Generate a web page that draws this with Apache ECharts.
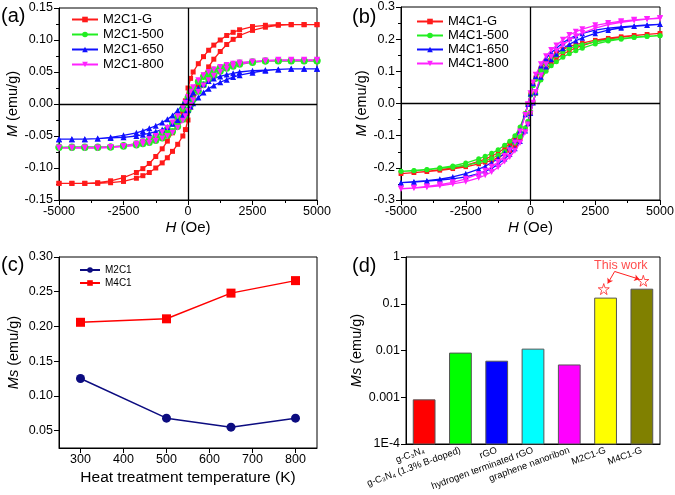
<!DOCTYPE html>
<html><head><meta charset="utf-8">
<script src="https://cdn.jsdelivr.net/npm/echarts@6/dist/echarts.min.js"></script>
<style>html,body{margin:0;padding:0;background:#fff}#c{width:675px;height:495px}</style>
</head><body><div id="c"></div>
<script>
// ---------- Panel (a)/(b): field grid (Oe), ascending ----------
const H_FIELD = [-5000,-4500,-4000,-3500,-3000,-2500,-2000,-1750,-1500,-1250,-1000,-800,-600,-400,-200,-100,0,100,200,400,600,800,1000,1250,1500,1750,2000,2500,3000,3500,4000,4500,5000];

// Panel (a): descending-field branch (upper) and ascending-field branch (lower), on H_FIELD
const M2C1_G_UP   = [-0.124,-0.124,-0.124,-0.123,-0.120,-0.115,-0.107,-0.101,-0.093,-0.082,-0.070,-0.058,-0.045,-0.030,-0.012,0.005,0.025,0.040,0.050,0.063,0.074,0.084,0.092,0.100,0.107,0.112,0.116,0.121,0.123,0.124,0.124,0.124,0.124];
const M2C1_G_LO   = [-0.124,-0.124,-0.124,-0.124,-0.123,-0.121,-0.116,-0.112,-0.107,-0.100,-0.092,-0.084,-0.074,-0.063,-0.050,-0.040,-0.025,-0.005,0.012,0.030,0.045,0.058,0.070,0.082,0.093,0.101,0.107,0.115,0.120,0.123,0.124,0.124,0.124];
const M2C1_500_UP = [-0.068,-0.068,-0.068,-0.068,-0.067,-0.065,-0.062,-0.059,-0.056,-0.051,-0.045,-0.039,-0.030,-0.020,-0.007,0.001,0.010,0.018,0.024,0.035,0.043,0.049,0.053,0.057,0.060,0.062,0.064,0.066,0.067,0.067,0.067,0.067,0.067];
const M2C1_500_LO = [-0.067,-0.067,-0.067,-0.067,-0.067,-0.066,-0.064,-0.062,-0.060,-0.057,-0.053,-0.049,-0.043,-0.035,-0.024,-0.018,-0.010,-0.001,0.007,0.020,0.030,0.039,0.045,0.051,0.056,0.059,0.062,0.065,0.067,0.068,0.068,0.068,0.068];
const M2C1_650_UP = [-0.055,-0.055,-0.055,-0.054,-0.052,-0.049,-0.045,-0.042,-0.038,-0.034,-0.029,-0.024,-0.018,-0.010,-0.001,0.004,0.009,0.014,0.018,0.025,0.031,0.036,0.040,0.043,0.046,0.048,0.050,0.052,0.053,0.054,0.055,0.055,0.055];
const M2C1_650_LO = [-0.055,-0.055,-0.055,-0.054,-0.053,-0.052,-0.050,-0.048,-0.046,-0.043,-0.040,-0.036,-0.031,-0.025,-0.018,-0.014,-0.009,-0.004,0.001,0.010,0.018,0.024,0.029,0.034,0.038,0.042,0.045,0.049,0.052,0.054,0.055,0.055,0.055];
const M2C1_800_UP = [-0.069,-0.069,-0.069,-0.069,-0.068,-0.066,-0.062,-0.059,-0.055,-0.050,-0.044,-0.037,-0.029,-0.019,-0.006,0.002,0.011,0.019,0.026,0.037,0.045,0.050,0.054,0.058,0.061,0.063,0.065,0.066,0.067,0.068,0.068,0.068,0.068];
const M2C1_800_LO = [-0.068,-0.068,-0.068,-0.068,-0.067,-0.066,-0.065,-0.063,-0.061,-0.058,-0.054,-0.050,-0.045,-0.037,-0.026,-0.019,-0.011,-0.002,0.006,0.019,0.029,0.037,0.044,0.050,0.055,0.059,0.062,0.066,0.068,0.069,0.069,0.069,0.069];

// Panel (b)
const M4C1_G_UP   = [-0.218,-0.215,-0.211,-0.206,-0.200,-0.192,-0.180,-0.173,-0.164,-0.153,-0.139,-0.125,-0.106,-0.077,-0.032,-0.002,0.028,0.058,0.080,0.110,0.131,0.146,0.157,0.168,0.177,0.183,0.188,0.197,0.203,0.208,0.212,0.215,0.218];
const M4C1_G_LO   = [-0.218,-0.215,-0.212,-0.208,-0.203,-0.197,-0.188,-0.183,-0.177,-0.168,-0.157,-0.146,-0.131,-0.110,-0.080,-0.058,-0.028,0.002,0.032,0.077,0.106,0.125,0.139,0.153,0.164,0.173,0.180,0.192,0.200,0.206,0.211,0.215,0.218];
const M4C1_500_UP = [-0.211,-0.208,-0.205,-0.200,-0.194,-0.185,-0.172,-0.164,-0.155,-0.144,-0.130,-0.117,-0.100,-0.073,-0.031,-0.003,0.026,0.055,0.075,0.103,0.123,0.138,0.149,0.161,0.171,0.178,0.183,0.192,0.198,0.202,0.206,0.209,0.211];
const M4C1_500_LO = [-0.211,-0.209,-0.206,-0.202,-0.198,-0.192,-0.183,-0.178,-0.171,-0.161,-0.149,-0.138,-0.123,-0.103,-0.075,-0.055,-0.026,0.003,0.031,0.073,0.100,0.117,0.130,0.144,0.155,0.164,0.172,0.185,0.194,0.200,0.205,0.208,0.211];
const M4C1_650_UP = [-0.246,-0.243,-0.240,-0.235,-0.228,-0.218,-0.204,-0.195,-0.184,-0.171,-0.154,-0.137,-0.114,-0.082,-0.034,-0.002,0.030,0.062,0.085,0.117,0.140,0.158,0.172,0.189,0.202,0.211,0.218,0.228,0.234,0.238,0.241,0.244,0.246];
const M4C1_650_LO = [-0.246,-0.244,-0.241,-0.238,-0.234,-0.228,-0.218,-0.211,-0.202,-0.189,-0.172,-0.158,-0.140,-0.117,-0.085,-0.062,-0.030,0.002,0.034,0.082,0.114,0.137,0.154,0.171,0.184,0.195,0.204,0.218,0.228,0.235,0.240,0.243,0.246];
const M4C1_800_UP = [-0.265,-0.262,-0.258,-0.252,-0.245,-0.234,-0.219,-0.209,-0.197,-0.182,-0.163,-0.145,-0.121,-0.087,-0.036,-0.002,0.032,0.065,0.089,0.122,0.147,0.166,0.180,0.198,0.213,0.223,0.231,0.243,0.250,0.256,0.260,0.263,0.265];
const M4C1_800_LO = [-0.265,-0.263,-0.260,-0.256,-0.250,-0.243,-0.231,-0.223,-0.213,-0.198,-0.180,-0.166,-0.147,-0.122,-0.089,-0.065,-0.032,0.002,0.036,0.087,0.121,0.145,0.163,0.182,0.197,0.209,0.219,0.234,0.245,0.252,0.258,0.262,0.265];

// Panel (c)
const TEMPS = [300, 500, 650, 800];
const MS_M2C1 = [0.125, 0.068, 0.055, 0.068];
const MS_M4C1 = [0.206, 0.211, 0.248, 0.266];
const C_X_TICKS = [300, 400, 500, 600, 700, 800];
const C_Y_TICKS = [0.05, 0.10, 0.15, 0.20, 0.25, 0.30];

// Panel (d)
const SAMPLES = ['g-C\u2083N\u2084', 'g-C\u2083N\u2084 (1.3% B-doped)', 'rGO', 'hydrogen terminated rGO', 'graphene nanoribon', 'M2C1-G', 'M4C1-G'];
const MS_SAMPLES = [0.00088, 0.0088, 0.0059, 0.0107, 0.0049, 0.132, 0.205];
const BAR_COLORS = ['#ff0000', '#00ff00', '#0000ff', '#00ffff', '#ff00ff', '#ffff00', '#808000'];
const LOG_TICK_LABELS = {'0': '1', '-1': '0.1', '-2': '0.01', '-3': '0.001', '-4': '1E-4'};
const STAR_POS = [[4.95, 0.206], [6.04, 0.31]];
const NOTE_POS = [5.42, 0.66];
const ARROWS = [[[5.25, 0.49], [5.06, 0.272]], [[5.25, 0.49], [5.93, 0.335]]];

function loop(up, lo) {
  const a = [];
  for (let i = H_FIELD.length - 1; i >= 0; i--) a.push([H_FIELD[i], up[i]]);
  for (let i = 0; i < H_FIELD.length; i++) a.push([H_FIELD[i], lo[i]]);
  return a;
}

const FONT = 'Arial, "Liberation Sans", sans-serif';
const BLACK = '#000';
const tickLbl = {color: BLACK, fontSize: 12.5, fontFamily: FONT};
const nameStyle = (sz) => ({color: BLACK, fontSize: sz, fontFamily: FONT,
  rich: {i: {fontStyle: 'italic', fontSize: sz, fontFamily: FONT, color: BLACK}, n: {fontSize: sz, fontFamily: FONT, color: BLACK}}});
const axLine = {show: true, onZero: false, lineStyle: {color: BLACK, width: 1}};
const axTick = {show: true, length: 5, lineStyle: {color: BLACK, width: 1}};
const minTick = {show: true, splitNumber: 2, length: 3, lineStyle: {color: BLACK, width: 1}};
const plain = v => String(Math.round(v));

const grids = [
  {left: 59, top: 8, width: 258, height: 192},
  {left: 401, top: 7, width: 259, height: 193},
  {left: 59, top: 257, width: 258, height: 191},
  {left: 406, top: 257, width: 254, height: 187}
].map(g => Object.assign(g, {show: true, borderColor: BLACK, borderWidth: 1, backgroundColor: 'transparent', containLabel: false, outerBoundsMode: 'none'}));

const xAxes = [
  {type: 'value', gridIndex: 0, min: -5000, max: 5000, interval: 2500, axisLine: axLine, axisTick: axTick, minorTick: minTick, splitLine: {show: false},
   axisLabel: Object.assign({margin: 5, formatter: plain}, tickLbl), name: '{i|H}{n| (Oe)}', nameLocation: 'middle', nameGap: 20, nameTextStyle: nameStyle(15)},
  {type: 'value', gridIndex: 1, min: -5000, max: 5000, interval: 2500, axisLine: axLine, axisTick: axTick, minorTick: minTick, splitLine: {show: false},
   axisLabel: Object.assign({margin: 5, formatter: plain}, tickLbl), name: '{i|H}{n| (Oe)}', nameLocation: 'middle', nameGap: 20, nameTextStyle: nameStyle(15)},
  {type: 'value', gridIndex: 2, min: 250, max: 850, axisLine: axLine, axisTick: Object.assign({customValues: C_X_TICKS}, axTick), splitLine: {show: false},
   axisLabel: Object.assign({margin: 5, customValues: C_X_TICKS, formatter: plain}, tickLbl), name: 'Heat treatment temperature (K)', nameLocation: 'middle', nameGap: 22, nameTextStyle: nameStyle(15.5)},
  {type: 'category', gridIndex: 3, data: SAMPLES, boundaryGap: true, axisLine: axLine, axisTick: {show: false},
   axisLabel: {interval: 0, rotate: 20, fontSize: 9.5, color: BLACK, fontFamily: FONT, margin: 6}},
  {type: 'value', gridIndex: 3, min: -0.5, max: 6.5, show: false}
];

const yAxes = [
  {type: 'value', gridIndex: 0, min: -0.15, max: 0.15, interval: 0.05, axisLine: axLine, axisTick: axTick, minorTick: minTick, splitLine: {show: false},
   axisLabel: Object.assign({margin: 6, formatter: v => v.toFixed(2)}, tickLbl), name: '{i|M}{n| (emu/g)}', nameLocation: 'middle', nameGap: 38, nameTextStyle: nameStyle(14.5)},
  {type: 'value', gridIndex: 1, min: -0.3, max: 0.3, interval: 0.1, axisLine: axLine, axisTick: axTick, minorTick: minTick, splitLine: {show: false},
   axisLabel: Object.assign({margin: 6, formatter: v => v.toFixed(1)}, tickLbl), name: '{i|M}{n| (emu/g)}', nameLocation: 'middle', nameGap: 31, nameTextStyle: nameStyle(14.5)},
  {type: 'value', gridIndex: 2, min: 0.025, max: 0.30, axisLine: axLine, axisTick: Object.assign({customValues: C_Y_TICKS}, axTick), splitLine: {show: false},
   axisLabel: Object.assign({margin: 6, customValues: C_Y_TICKS, formatter: v => v.toFixed(2)}, tickLbl), name: '{i|Ms}{n| (emu/g)}', nameLocation: 'middle', nameGap: 38, nameTextStyle: nameStyle(14.5)},
  {type: 'log', logBase: 10, gridIndex: 3, min: 0.0001, max: 1, axisLine: axLine, axisTick: axTick, splitLine: {show: false},
   axisLabel: Object.assign({margin: 6, formatter: v => LOG_TICK_LABELS[String(Math.round(Math.log10(v)))] || ''}, tickLbl),
   name: '{i|Ms}{n| (emu/g)}', nameLocation: 'middle', nameGap: 38, nameTextStyle: nameStyle(14.5)}
];

function loopSeries(name, color, symbol, size, up, lo, xi, rot) {
  return {type: 'line', name, xAxisIndex: xi, yAxisIndex: xi, data: loop(up, lo), color,
    symbol, symbolSize: size, symbolRotate: rot || 0, showSymbol: true, showAllSymbol: true,
    lineStyle: {color, width: 1.3}, itemStyle: {color}, animation: false, silent: true, z: 3};
}

const zeroLine = (xi) => ({type: 'line', xAxisIndex: xi, yAxisIndex: xi, data: [], silent: true, animation: false,
  markLine: {silent: true, symbol: ['none', 'none'], label: {show: false}, animation: false,
    lineStyle: {color: BLACK, width: 1.3, type: 'solid'}, data: [{xAxis: 0}, {yAxis: 0}]}});

const series = [
  zeroLine(0), zeroLine(1),
  loopSeries('M2C1-G', '#ff1a1a', 'rect', 5, M2C1_G_UP, M2C1_G_LO, 0),
  loopSeries('M2C1-500', '#22ee22', 'circle', 7, M2C1_500_UP, M2C1_500_LO, 0),
  loopSeries('M2C1-650', '#1010ff', 'triangle', 6, M2C1_650_UP, M2C1_650_LO, 0),
  loopSeries('M2C1-800', '#ff22ff', 'triangle', 6, M2C1_800_UP, M2C1_800_LO, 0, 180),
  loopSeries('M4C1-G', '#ff1a1a', 'rect', 4.5, M4C1_G_UP, M4C1_G_LO, 1),
  loopSeries('M4C1-500', '#22ee22', 'circle', 5, M4C1_500_UP, M4C1_500_LO, 1),
  loopSeries('M4C1-650', '#1010ff', 'triangle', 5.5, M4C1_650_UP, M4C1_650_LO, 1),
  loopSeries('M4C1-800', '#ff22ff', 'triangle', 6, M4C1_800_UP, M4C1_800_LO, 1, 180),
  {type: 'line', name: 'M2C1', xAxisIndex: 2, yAxisIndex: 2, data: TEMPS.map((t, i) => [t, MS_M2C1[i]]), color: '#0c0c80',
   symbol: 'circle', symbolSize: 9, lineStyle: {color: '#0c0c80', width: 1.5}, itemStyle: {color: '#0c0c80'}, animation: false},
  {type: 'line', name: 'M4C1', xAxisIndex: 2, yAxisIndex: 2, data: TEMPS.map((t, i) => [t, MS_M4C1[i]]), color: '#ff0000',
   symbol: 'rect', symbolSize: 9, lineStyle: {color: '#ff0000', width: 1.5}, itemStyle: {color: '#ff0000'}, animation: false},
  {type: 'custom', xAxisIndex: 4, yAxisIndex: 3, data: MS_SAMPLES.map((v, i) => [i, v]), animation: false, clip: false,
   renderItem: function (params, api) {
     const i = api.value(0), v = api.value(1);
     const tl = api.coord([i - 0.3, v]);
     const br = api.coord([i + 0.3, 0.0001]);
     return {type: 'rect', shape: {x: tl[0], y: tl[1], width: br[0] - tl[0], height: br[1] - tl[1]},
       style: {fill: BAR_COLORS[params.dataIndex], stroke: '#555', lineWidth: 1}};
   }},
  {type: 'scatter', xAxisIndex: 4, yAxisIndex: 3, data: STAR_POS, animation: false, silent: true,
   symbol: 'path://M50,0 L61,35 L98,35 L68,57 L79,91 L50,70 L21,91 L32,57 L2,35 L39,35 Z', symbolSize: 11,
   itemStyle: {color: 'rgba(0,0,0,0)', borderColor: '#ff2020', borderWidth: 1}},
  {type: 'lines', coordinateSystem: 'cartesian2d', xAxisIndex: 4, yAxisIndex: 3, animation: false, silent: true,
   symbol: ['none', 'arrow'], symbolSize: 5, lineStyle: {color: '#ff2020', width: 1, opacity: 1},
   data: ARROWS.map(c => ({coords: c}))},
  {type: 'scatter', xAxisIndex: 4, yAxisIndex: 3, data: [NOTE_POS], symbolSize: 1, animation: false, silent: true,
   itemStyle: {color: 'rgba(0,0,0,0)'},
   label: {show: true, position: 'inside', formatter: 'This work', color: '#ff2020', fontSize: 12.5, fontFamily: FONT}}
];

const legendBase = {orient: 'vertical', padding: 0, itemGap: 2, itemWidth: 26, itemHeight: 7,
  textStyle: {color: BLACK, fontSize: 13, fontFamily: FONT}, selectedMode: false, inactiveColor: '#000'};

const option = {
  animation: false,
  backgroundColor: '#fff',
  grid: grids,
  xAxis: xAxes,
  yAxis: yAxes,
  legend: [
    Object.assign({}, legendBase, {data: ['M2C1-G', 'M2C1-500', 'M2C1-650', 'M2C1-800'], left: 71, top: 13}),
    Object.assign({}, legendBase, {data: ['M4C1-G', 'M4C1-500', 'M4C1-650', 'M4C1-800'], left: 416, top: 15, itemGap: 1}),
    Object.assign({}, legendBase, {data: ['M2C1', 'M4C1'], left: 79, top: 265, itemWidth: 20, itemHeight: 7, itemGap: 3,
      textStyle: {color: BLACK, fontSize: 10, fontFamily: FONT}})
  ],
  graphic: [
    {type: 'text', left: 1, top: 6, style: {text: '(a)', fontSize: 20, fontFamily: FONT, fill: BLACK}},
    {type: 'text', left: 352, top: 7, style: {text: '(b)', fontSize: 20, fontFamily: FONT, fill: BLACK}},
    {type: 'text', left: 1, top: 255, style: {text: '(c)', fontSize: 20, fontFamily: FONT, fill: BLACK}},
    {type: 'text', left: 352, top: 256, style: {text: '(d)', fontSize: 20, fontFamily: FONT, fill: BLACK}}
  ],
  series
};

const chart = echarts.init(document.getElementById('c'), null, {renderer: 'canvas', width: 675, height: 495});
chart.setOption(option);
</script>
</body></html>
